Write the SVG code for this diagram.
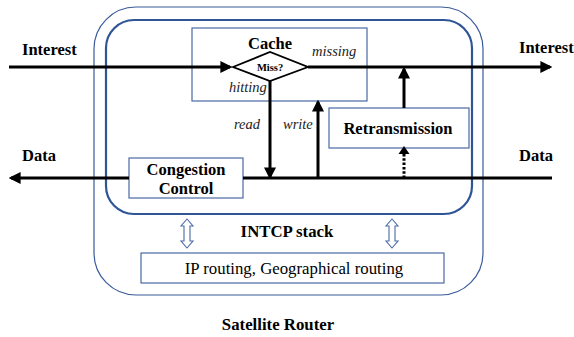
<svg xmlns="http://www.w3.org/2000/svg" width="574" height="337" viewBox="0 0 574 337">
<style>
.box{fill:#fff;stroke:#4a6aa5;stroke-width:1.2;}
.ln{stroke:#000;stroke-width:3;fill:none;}
.dbl{fill:#fff;stroke:#4a6aa5;stroke-width:1.1;}
</style>
<defs>
<marker id="ah" markerWidth="4" markerHeight="4" refX="3.2" refY="2" orient="auto" markerUnits="strokeWidth">
<path d="M0,0 L4,2 L0,4 Z" fill="#000"/>
</marker>
</defs>
<rect id="router" x="94" y="7" width="389" height="288" rx="42" ry="42" fill="none" stroke="#3a5a9a" stroke-width="1.2"/>
<rect id="intcp" x="106" y="20" width="366" height="194" rx="28" ry="28" fill="none" stroke="#2f5597" stroke-width="2.2"/>
<g id="cache">
<rect class="box" x="192" y="28" width="175" height="73"/>
<text x="270" y="49" font-size="16.5" font-weight="bold" text-anchor="middle" font-family="Liberation Serif">Cache</text>
</g>
<g id="retrans">
<rect class="box" x="329" y="108" width="140" height="40"/>
<text x="398" y="134" font-size="16.5" font-weight="bold" text-anchor="middle" font-family="Liberation Serif">Retransmission</text>
</g>
<g id="congestion">
<rect class="box" x="129" y="158" width="114" height="40"/>
<text x="186" y="175" font-size="16.5" font-weight="bold" text-anchor="middle" font-family="Liberation Serif">Congestion</text>
<text x="186" y="194" font-size="16.5" font-weight="bold" text-anchor="middle" font-family="Liberation Serif">Control</text>
</g>
<g id="iprouting">
<rect class="box" x="141" y="253" width="303" height="30"/>
<text x="294" y="274" font-size="16.8" text-anchor="middle" font-family="Liberation Serif">IP routing, Geographical routing</text>
</g>
<g id="connectors">
<line class="ln" x1="9" y1="67" x2="230" y2="67" marker-end="url(#ah)"/>
<line class="ln" x1="308" y1="67" x2="550" y2="67" marker-end="url(#ah)"/>
<line class="ln" x1="270" y1="81" x2="270" y2="177" marker-end="url(#ah)"/>
<line class="ln" x1="318" y1="178" x2="318" y2="102" marker-end="url(#ah)"/>
<line class="ln" x1="404" y1="108" x2="404" y2="69" marker-end="url(#ah)"/>
<line x1="404" y1="178" x2="404" y2="152" stroke="#000" stroke-width="3" stroke-dasharray="2.5,1.8"/>
<path d="M398.5,154 L404,146 L409.5,154 Z" fill="#000"/>
<line class="ln" x1="243" y1="178" x2="552" y2="178"/>
<line class="ln" x1="129" y1="178" x2="11" y2="178" marker-end="url(#ah)"/>
<path class="dbl" d="M187,219 L193,226 L190,226 L190,241 L193,241 L187,248 L181,241 L184,241 L184,226 L181,226 Z"/>
<path class="dbl" d="M392,219 L398,226 L395,226 L395,241 L398,241 L392,248 L386,241 L389,241 L389,226 L386,226 Z"/>
</g>
<g id="miss">
<polygon points="233,67 270,52 308,67 270,81" fill="#fff" stroke="#000" stroke-width="1.8"/>
<text x="270" y="71" font-size="10.5" font-weight="bold" text-anchor="middle" font-family="Liberation Serif">Miss?</text>
</g>
<text x="312" y="56" font-size="14.5" font-style="italic" fill="#222" font-family="Liberation Serif">missing</text>
<text x="229" y="92" font-size="14.5" font-style="italic" fill="#222" font-family="Liberation Serif">hitting</text>
<text x="234" y="129" font-size="14.5" font-style="italic" fill="#222" font-family="Liberation Serif">read</text>
<text x="283" y="129" font-size="14.5" font-style="italic" fill="#222" font-family="Liberation Serif">write</text>
<text x="22" y="55" font-size="16.5" font-weight="bold" font-family="Liberation Serif">Interest</text>
<text x="519" y="53" font-size="16.5" font-weight="bold" font-family="Liberation Serif">Interest</text>
<text x="22" y="161" font-size="16.5" font-weight="bold" font-family="Liberation Serif">Data</text>
<text x="519" y="161" font-size="16.5" font-weight="bold" font-family="Liberation Serif">Data</text>
<text x="287" y="237" font-size="16.8" font-weight="bold" text-anchor="middle" font-family="Liberation Serif">INTCP stack</text>
<text x="278" y="330" font-size="16.8" font-weight="bold" text-anchor="middle" font-family="Liberation Serif">Satellite Router</text>
</svg>
